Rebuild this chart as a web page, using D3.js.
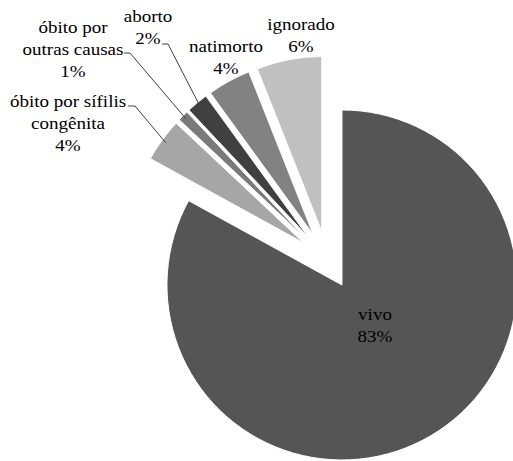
<!DOCTYPE html>
<html>
<head>
<meta charset="utf-8">
<script src="https://cdn.jsdelivr.net/npm/d3@7/dist/d3.min.js"></script>
<style>
  html, body { margin: 0; padding: 0; background: #fff; }
  svg { display: block; }
</style>
</head>
<body>
<svg id="chart" width="513" height="461"></svg>
<script>
// ---- data ----
const categories = ["vivo", "óbito por sífilis congênita", "óbito por outras causas", "aborto", "natimorto", "ignorado"];
const values = [83, 4, 1, 2, 4, 6];
const labelLines = [
  ["vivo", "83%"],
  ["óbito por sífilis", "congênita", "4%"],
  ["óbito por", "outras causas", "1%"],
  ["aborto", "2%"],
  ["natimorto", "4%"],
  ["ignorado", "6%"]
];

// ---- styling / layout ----
const colors = ["#555555", "#a6a6a6", "#7a7a7a", "#404040", "#828282", "#c0c0c0"];
const fontFamily = "Liberation Serif";
const fontSize = 17, textStretch = 1.12;
const cx = 327.2, cy = 260, radius = 175, explode = 29;
const labelLayout = [
  { x: 375, y: 320, leader: null },
  { x: 68, y: 107, leader: { x0: 128, x1: 135, y: 106 } },
  { x: 73, y: 33, leader: { x0: 124, x1: 130, y: 53 } },
  { x: 148, y: 22, leader: { x0: 162, x1: 168, y: 44 } },
  { x: 226, y: 52, leader: null },
  { x: 301, y: 30, leader: null }
];
const lineHeight = 22;

const svg = d3.select("#chart");
const pie = d3.pie().sort(null).value(d => d.value).startAngle(0).endAngle(2 * Math.PI);
const data = categories.map((c, i) => ({ cat: c, value: values[i], i }));
const arcs = pie(data);
const arc = d3.arc().innerRadius(0).outerRadius(radius);

const g = svg.append("g").attr("transform", `translate(${cx},${cy})`);

function offset(a) {
  const m = (a.startAngle + a.endAngle) / 2;
  return [explode * Math.sin(m), -explode * Math.cos(m)];
}

g.selectAll("path.slice")
  .data(arcs)
  .enter().append("path")
  .attr("class", "slice")
  .attr("d", arc)
  .attr("transform", d => { const o = offset(d); return `translate(${o[0]},${o[1]})`; })
  .attr("fill", d => colors[d.data.i])
  .attr("stroke", "#fff")
  .attr("stroke-width", 1);

// leader lines
arcs.forEach(a => {
  const lay = labelLayout[a.data.i];
  if (!lay.leader) return;
  const m = (a.startAngle + a.endAngle) / 2;
  const o = offset(a);
  const rr = radius * 0.975;
  const ex = cx + o[0] + rr * Math.sin(m);
  const ey = cy + o[1] - rr * Math.cos(m);
  svg.append("path")
    .attr("d", `M${lay.leader.x0},${lay.leader.y}L${lay.leader.x1},${lay.leader.y}L${ex},${ey}`)
    .attr("fill", "none")
    .attr("stroke", "#404040")
    .attr("stroke-width", 1);
});

// labels
arcs.forEach(a => {
  const lay = labelLayout[a.data.i];
  const t = svg.append("text")
    .attr("text-anchor", "middle")
    .attr("transform", `translate(${lay.x},${lay.y}) scale(${textStretch},1)`)
    .attr("fill", "#000")
    .style("font-family", fontFamily)
    .style("font-size", fontSize + "px");
  labelLines[a.data.i].forEach((ln, k) => {
    t.append("tspan").attr("x", 0).attr("y", k * lineHeight).text(ln);
  });
});
</script>
</body>
</html>
